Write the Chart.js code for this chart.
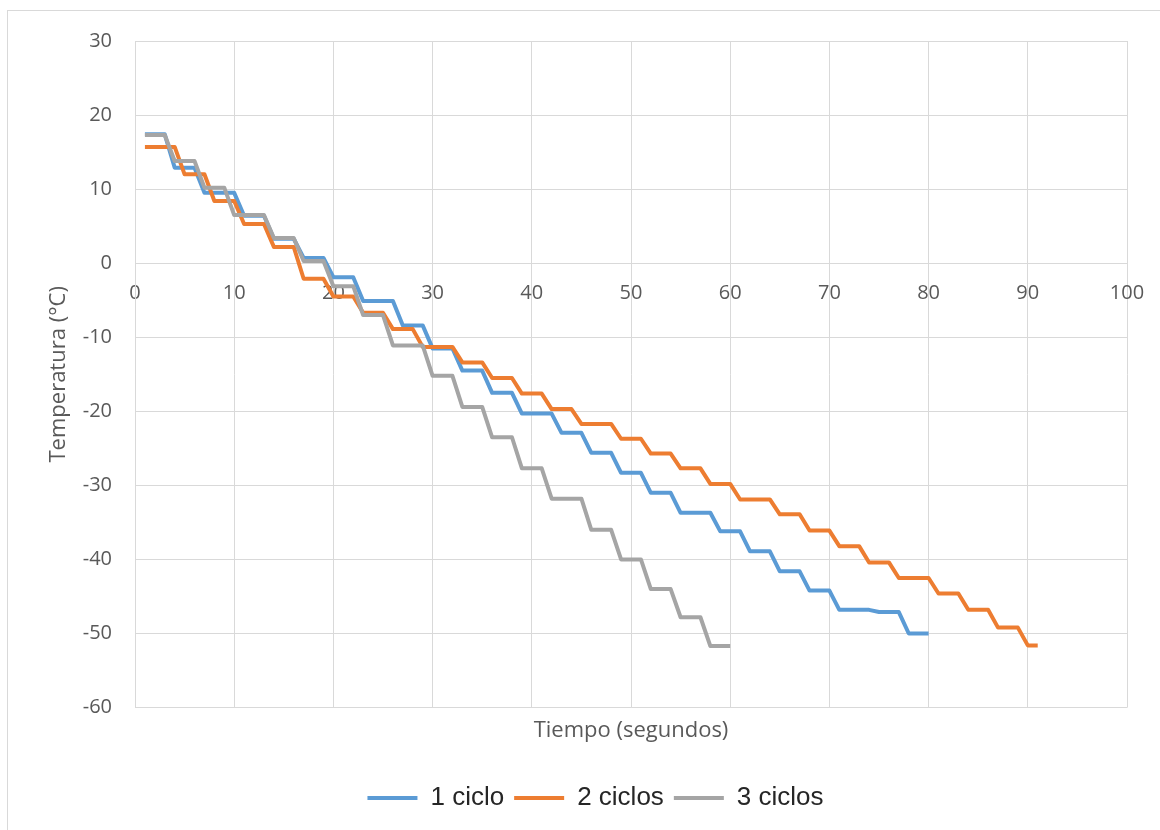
<!DOCTYPE html>
<html>
<head>
<meta charset="utf-8">
<script src="https://cdn.jsdelivr.net/npm/chart.js@4.4.1/dist/chart.umd.min.js"></script>
<style>
  html, body { margin: 0; padding: 0; background: #fff; overflow: hidden; }
  #wrap { position: relative; width: 1160px; height: 830px; }
  #frame { position: absolute; left: 7px; top: 10px; right: -10px; bottom: -10px; border: 1px solid #d9d9d9; }
  canvas { position: absolute; left: 0; top: 0; }
</style>
</head>
<body>
<div id="wrap">
  <div id="frame"></div>
  <canvas id="grafico" width="1160" height="830"></canvas>
</div>
<script>
// tiempo en segundos (una muestra por segundo)
const segundos = [1, 2, 3, 4, 5, 6, 7, 8, 9, 10, 11, 12, 13, 14, 15, 16, 17, 18, 19, 20,
  21, 22, 23, 24, 25, 26, 27, 28, 29, 30, 31, 32, 33, 34, 35, 36, 37, 38, 39, 40,
  41, 42, 43, 44, 45, 46, 47, 48, 49, 50, 51, 52, 53, 54, 55, 56, 57, 58, 59, 60,
  61, 62, 63, 64, 65, 66, 67, 68, 69, 70, 71, 72, 73, 74, 75, 76, 77, 78, 79, 80,
  81, 82, 83, 84, 85, 86, 87, 88, 89, 90, 91];

// temperaturas (°C)
const unCiclo = [17.4, 17.4, 17.4, 12.9, 12.9, 12.9, 9.5, 9.5, 9.5, 9.5,
  6.4, 6.4, 6.4, 3.3, 3.3, 3.3, 0.7, 0.7, 0.7, -1.9,
  -1.9, -1.9, -5.1, -5.1, -5.1, -5.1, -8.4, -8.4, -8.4, -11.5,
  -11.5, -11.5, -14.5, -14.5, -14.5, -17.5, -17.5, -17.5, -20.3, -20.3,
  -20.3, -20.3, -22.9, -22.9, -22.9, -25.6, -25.6, -25.6, -28.3, -28.3,
  -28.3, -31.0, -31.0, -31.0, -33.7, -33.7, -33.7, -33.7, -36.2, -36.2,
  -36.2, -38.9, -38.9, -38.9, -41.6, -41.6, -41.6, -44.2, -44.2, -44.2,
  -46.8, -46.8, -46.8, -46.8, -47.1, -47.1, -47.1, -50.0, -50.0, -50.0];

const dosCiclos = [15.7, 15.7, 15.7, 15.7, 12.0, 12.0, 12.0, 8.4, 8.4, 8.4,
  5.3, 5.3, 5.3, 2.2, 2.2, 2.2, -2.1, -2.1, -2.1, -4.5,
  -4.5, -4.5, -6.7, -6.7, -6.7, -8.9, -8.9, -8.9, -11.3, -11.3,
  -11.3, -11.3, -13.4, -13.4, -13.4, -15.5, -15.5, -15.5, -17.6, -17.6,
  -17.6, -19.7, -19.7, -19.7, -21.7, -21.7, -21.7, -21.7, -23.7, -23.7,
  -23.7, -25.7, -25.7, -25.7, -27.7, -27.7, -27.7, -29.8, -29.8, -29.8,
  -31.9, -31.9, -31.9, -31.9, -33.9, -33.9, -33.9, -36.1, -36.1, -36.1,
  -38.2, -38.2, -38.2, -40.4, -40.4, -40.4, -42.5, -42.5, -42.5, -42.5,
  -44.6, -44.6, -44.6, -46.8, -46.8, -46.8, -49.2, -49.2, -49.2, -51.6,
  -51.6];

const tresCiclos = [17.3, 17.3, 17.3, 13.8, 13.8, 13.8, 10.2, 10.2, 10.2, 6.5,
  6.5, 6.5, 6.5, 3.4, 3.4, 3.4, 0.3, 0.3, 0.3, -3.1,
  -3.1, -3.1, -7.0, -7.0, -7.0, -11.1, -11.1, -11.1, -11.1, -15.2,
  -15.2, -15.2, -19.4, -19.4, -19.4, -23.5, -23.5, -23.5, -27.7, -27.7,
  -27.7, -31.8, -31.8, -31.8, -31.8, -36.0, -36.0, -36.0, -40.0, -40.0,
  -40.0, -44.0, -44.0, -44.0, -47.8, -47.8, -47.8, -51.7, -51.7, -51.7];

const nombres = ["1 ciclo", "2 ciclos", "3 ciclos"];
const colores = ["#5B9BD5", "#ED7D31", "#A5A5A5"];
const valores = [unCiclo, dosCiclos, tresCiclos];

const gris = "#595959";
const rejilla = "#d9d9d9";

const puntos = (vals) => vals.map((v, i) => ({ x: segundos[i], y: v }));

// la leyenda del original va centrada en el marco, algo mas a la derecha
const moverLeyenda = {
  id: "moverLeyenda",
  afterLayout(chart) {
    if (chart.legend) {
      chart.legend.left += 32;
      chart.legend.right += 32;
    }
  },
};

new Chart(document.getElementById("grafico").getContext("2d"), {
  type: "line",
  data: {
    datasets: valores.map((vals, i) => ({
      label: nombres[i],
      data: puntos(vals),
      borderColor: colores[i],
      backgroundColor: colores[i],
      borderWidth: 4,
      borderJoinStyle: "round",
      pointRadius: 0,
      tension: 0,
      fill: false,
      order: 3 - i, // gris encima, luego naranja
    })),
  },
  options: {
    responsive: false,
    animation: false,
    layout: { padding: { left: 0, right: 33, top: 41, bottom: 9 } },
    scales: {
      x: {
        type: "linear",
        position: { y: 0 },
        min: 0,
        max: 100,
        ticks: { stepSize: 10, color: gris, padding: 18, font: { family: "Open Sans", size: 20 } },
        grid: { color: rejilla, lineWidth: 1, drawTicks: false },
        border: { color: rejilla, width: 1 },
        // el eje cruza en y = 0: no debe reservar margen lateral
        afterFit: (s) => { s.paddingLeft = 0; s.paddingRight = 0; },
      },
      x2: {
        type: "linear",
        position: "bottom",
        min: 0,
        max: 100,
        ticks: { display: false },
        grid: { display: false },
        border: { display: false },
        title: {
          display: true,
          text: "Tiempo (segundos)",
          color: gris,
          font: { family: "Open Sans", size: 22 },
          padding: { top: 2, bottom: 31 },
        },
      },
      y: {
        min: -60,
        max: 30,
        ticks: { stepSize: 10, color: gris, padding: 23, font: { family: "Open Sans", size: 20 } },
        grid: { color: rejilla, lineWidth: 1, drawTicks: false },
        border: { color: rejilla, width: 1 },
        title: {
          display: true,
          text: "Temperatura (°C)",
          color: gris,
          font: { family: "Open Sans", size: 22 },
          padding: { top: 46, bottom: 0 },
        },
        afterFit: (s) => { s.width = 135; },
      },
    },
    plugins: {
      legend: {
        position: "bottom",
        labels: {
          usePointStyle: true,
          pointStyle: "line",
          pointStyleWidth: 50,
          color: "#262626",
          padding: 10,
          font: { family: "Liberation Sans", size: 26 },
          sort: (a, b) => a.datasetIndex - b.datasetIndex,
        },
      },
      tooltip: { enabled: false },
    },
  },
  plugins: [moverLeyenda],
});
</script>
</body>
</html>
